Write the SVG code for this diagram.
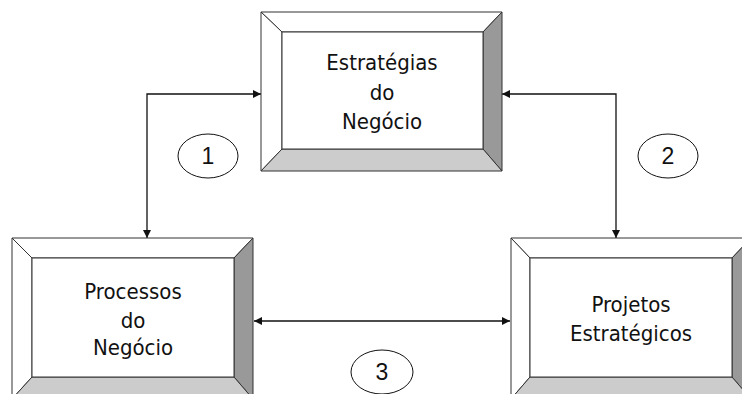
<svg xmlns="http://www.w3.org/2000/svg" width="742" height="394" viewBox="0 0 742 394">
<defs>
<style>
.bv{stroke:#333;stroke-width:1;stroke-linejoin:miter}
.lt{fill:#fff}
.dk{fill:#999}
.md{fill:#ccc}
.lbl{font-family:"DejaVu Sans Condensed","DejaVu Sans",sans-serif;font-size:22px;fill:#111;text-anchor:middle}
.num{font-family:"Liberation Sans",Arial,sans-serif;font-size:23px;fill:#111;text-anchor:middle}
.conn{fill:none;stroke:#111;stroke-width:1.3}
.el{fill:#fff;stroke:#111;stroke-width:1}
</style>
<marker id="ah" viewBox="0 0 10 10" refX="10" refY="5" markerWidth="8" markerHeight="8" markerUnits="userSpaceOnUse" orient="auto-start-reverse">
<path d="M0,0 L10,5 L0,10 z" fill="#111"/>
</marker>
</defs>
<g id="connectors">
<path class="conn" d="M261,94 H147 V238" marker-start="url(#ah)" marker-end="url(#ah)"/>
<path class="conn" d="M502,94 H616 V238" marker-start="url(#ah)" marker-end="url(#ah)"/>
<path class="conn" d="M254,321 H510" marker-start="url(#ah)" marker-end="url(#ah)"/>
</g>
<g id="node-estrategias">
<polygon class="bv lt" points="261,12 502,12 483,32 282,32"/>
<polygon class="bv lt" points="261,12 282,32 282,149 261,171"/>
<polygon class="bv dk" points="502,12 502,171 483,149 483,32"/>
<polygon class="bv md" points="261,171 282,149 483,149 502,171"/>
<rect class="bv lt" x="282" y="32" width="201" height="117"/>
<text class="lbl" x="382" y="70">Estratégias</text>
<text class="lbl" x="382" y="100">do</text>
<text class="lbl" x="382" y="129">Negócio</text>
</g>
<g id="node-processos">
<polygon class="bv lt" points="12,238 253,238 234,258 32,258"/>
<polygon class="bv lt" points="12,238 32,258 32,377 12,399"/>
<polygon class="bv dk" points="253,238 253,399 234,377 234,258"/>
<polygon class="bv md" points="12,399 32,377 234,377 253,399"/>
<rect class="bv lt" x="32" y="258" width="202" height="119"/>
<text class="lbl" x="133" y="299">Processos</text>
<text class="lbl" x="133" y="328">do</text>
<text class="lbl" x="133" y="355">Negócio</text>
</g>
<g id="node-projetos">
<polygon class="bv lt" points="511,238 751,238 732,258 530,258"/>
<polygon class="bv lt" points="511,238 530,258 530,377 511,399"/>
<polygon class="bv dk" points="751,238 751,399 732,377 732,258"/>
<polygon class="bv md" points="511,399 530,377 732,377 751,399"/>
<rect class="bv lt" x="530" y="258" width="202" height="119"/>
<text class="lbl" x="631" y="312">Projetos</text>
<text class="lbl" x="631" y="341">Estratégicos</text>
</g>
<g id="label-1">
<ellipse class="el" cx="208" cy="156" rx="30" ry="22"/>
<text class="num" x="208" y="164">1</text>
</g>
<g id="label-2">
<ellipse class="el" cx="668" cy="156" rx="30" ry="22"/>
<text class="num" x="668" y="164">2</text>
</g>
<g id="label-3">
<ellipse class="el" cx="382" cy="372" rx="31" ry="22"/>
<text class="num" x="382" y="380">3</text>
</g>
</svg>
